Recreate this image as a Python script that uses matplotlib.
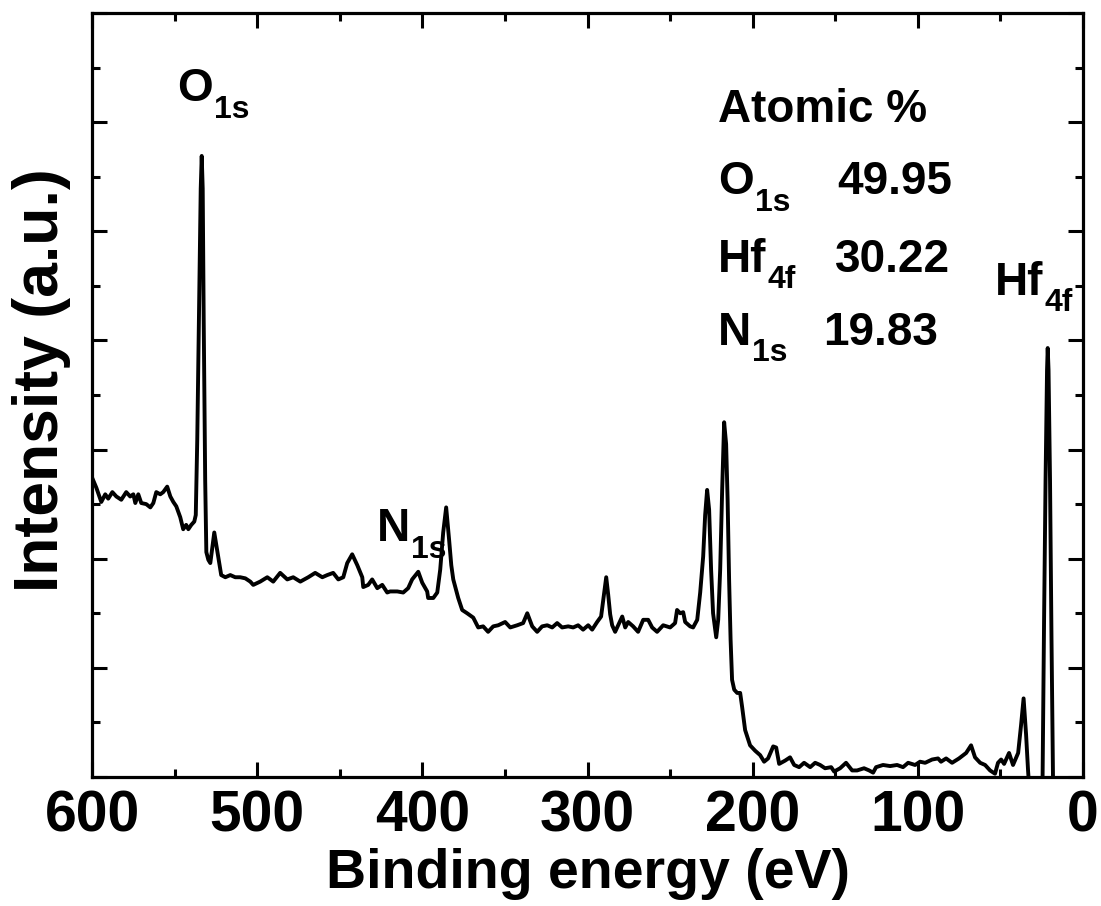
import matplotlib
matplotlib.use("Agg")
import matplotlib.pyplot as plt
from matplotlib.ticker import MultipleLocator, NullFormatter

plt.rcParams['font.family'] = ['Liberation Sans', 'DejaVu Sans']
plt.rcParams['font.weight'] = 'bold'

# Binding energy (eV) and intensity (a.u.)
binding_energy = [
    599.9, 597.4, 594.4, 592.0, 590.2, 587.7, 585.3, 582.3, 579.3, 576.9,
    575.0, 573.8, 572.0, 570.2, 567.2, 564.7, 562.9, 561.1, 558.7, 556.9,
    554.5, 552.6, 550.8, 549.0, 546.6, 544.8, 543.0, 541.7, 539.9, 538.1,
    537.2, 536.3, 535.1, 534.2, 533.6, 533.0, 532.4, 531.5, 530.8, 529.6,
    528.4, 527.2, 526.0, 524.8, 523.6, 521.8, 519.3, 516.3, 513.3, 510.3,
    507.2, 504.2, 502.4, 498.2, 493.9, 490.3, 486.1, 481.8, 478.2, 473.9,
    469.1, 464.9, 460.6, 457.6, 454.0, 450.9, 447.9, 445.5, 442.5, 439.4,
    436.4, 435.8, 432.8, 430.4, 427.3, 424.3, 421.3, 419.5, 415.2, 411.6,
    408.6, 406.2, 402.5, 400.1, 397.1, 396.5, 393.4, 391.0, 389.2, 387.4,
    385.6, 383.8, 382.5, 381.3, 378.3, 375.9, 372.9, 369.2, 366.2, 363.2,
    360.2, 357.1, 354.1, 349.9, 346.8, 342.6, 339.0, 336.5, 333.5, 330.5,
    327.5, 324.4, 321.4, 318.4, 315.4, 311.7, 308.7, 305.7, 302.7, 299.6,
    297.2, 294.2, 291.8, 290.5, 288.7, 287.5, 286.3, 285.1, 283.3, 279.0,
    277.2, 275.4, 272.4, 269.4, 266.3, 263.3, 260.9, 257.9, 254.2, 250.0,
    247.0, 245.8, 243.9, 242.1, 240.9, 237.9, 236.1, 233.6, 231.8, 230.0,
    228.8, 227.6, 226.4, 225.2, 224.0, 222.1, 220.9, 219.7, 218.5, 217.3,
    216.1, 215.2, 214.3, 213.4, 212.5, 211.2, 209.4, 207.6, 206.4, 204.6,
    201.6, 198.5, 195.5, 193.1, 190.7, 187.6, 185.8, 184.0, 180.4, 177.4,
    174.9, 171.9, 168.9, 165.2, 162.2, 159.2, 156.2, 152.5, 150.7, 147.1,
    143.5, 139.8, 136.8, 132.6, 129.5, 127.1, 125.3, 121.1, 116.8, 112.6,
    109.0, 105.9, 101.7, 98.7, 95.6, 91.4, 87.8, 86.0, 82.9, 79.3,
    75.1, 70.8, 67.8, 65.4, 62.3, 59.3, 56.3, 53.3, 51.5, 49.6,
    47.8, 44.8, 42.4, 39.3, 37.5, 36.0, 34.5, 33.3, 32.1, 28.4,
    25.4, 24.5, 23.6, 22.7, 21.8, 21.4, 20.9, 20.0, 19.1, 18.2,
    16.9, 13.9,
]
intensity = [
    2.74, 2.65, 2.52, 2.59, 2.55, 2.61, 2.57, 2.54, 2.61, 2.57,
    2.59, 2.51, 2.59, 2.51, 2.50, 2.47, 2.51, 2.61, 2.59, 2.61,
    2.66, 2.57, 2.52, 2.48, 2.38, 2.27, 2.31, 2.27, 2.31, 2.34,
    2.40, 3.09, 4.38, 5.39, 5.69, 5.39, 4.19, 2.72, 2.06, 1.99,
    1.96, 2.10, 2.24, 2.13, 2.02, 1.85, 1.83, 1.85, 1.83, 1.83,
    1.82, 1.79, 1.76, 1.79, 1.83, 1.79, 1.87, 1.81, 1.83, 1.79,
    1.83, 1.87, 1.83, 1.85, 1.87, 1.81, 1.83, 1.96, 2.04, 1.94,
    1.83, 1.74, 1.76, 1.81, 1.73, 1.76, 1.69, 1.70, 1.70, 1.69,
    1.73, 1.81, 1.88, 1.78, 1.70, 1.64, 1.64, 1.69, 1.90, 2.24,
    2.47, 2.17, 1.94, 1.81, 1.64, 1.53, 1.50, 1.46, 1.37, 1.38,
    1.33, 1.38, 1.39, 1.42, 1.37, 1.39, 1.41, 1.50, 1.38, 1.33,
    1.38, 1.39, 1.37, 1.41, 1.37, 1.38, 1.37, 1.39, 1.35, 1.39,
    1.35, 1.42, 1.47, 1.62, 1.83, 1.67, 1.49, 1.39, 1.33, 1.47,
    1.37, 1.42, 1.38, 1.33, 1.44, 1.44, 1.37, 1.33, 1.39, 1.37,
    1.41, 1.53, 1.50, 1.51, 1.42, 1.38, 1.37, 1.44, 1.69, 2.02,
    2.40, 2.63, 2.45, 1.90, 1.50, 1.28, 1.44, 1.90, 2.63, 3.25,
    3.05, 2.54, 1.81, 1.26, 0.89, 0.80, 0.77, 0.77, 0.64, 0.43,
    0.29, 0.24, 0.20, 0.14, 0.17, 0.28, 0.27, 0.12, 0.15, 0.18,
    0.11, 0.09, 0.13, 0.09, 0.13, 0.11, 0.08, 0.09, 0.05, 0.08,
    0.13, 0.06, 0.06, 0.08, 0.06, 0.04, 0.09, 0.11, 0.10, 0.11,
    0.09, 0.13, 0.11, 0.14, 0.13, 0.16, 0.17, 0.14, 0.17, 0.13,
    0.17, 0.22, 0.29, 0.18, 0.13, 0.11, 0.06, 0.03, 0.13, 0.16,
    0.12, 0.22, 0.11, 0.22, 0.48, 0.72, 0.39, 0.06, -0.21, -0.39,
    -0.21, 0.00, 1.44, 2.72, 3.73, 3.93, 3.73, 2.72, 1.26, 0.00,
    -0.30, -0.39,
]

# Peak labels: (element, subscript, x, y)
peak_labels = [('O', '1s', 548.4, 6.19),
               ('N', '1s', 427.3, 2.16),
               ('Hf', '4f', 53.3, 4.42)]
atomic_title = 'Atomic %'
atomic_elements = [('O', '1s'), ('Hf', '4f'), ('N', '1s')]
atomic_values = ['49.95', '30.22', '19.83']

fig = plt.figure(figsize=(11.01, 9.06), dpi=100)
ax = fig.add_axes([0.0836, 0.1424, 0.9001, 0.8433])
ax.plot(binding_energy, intensity, color='black', lw=2.8,
        solid_joinstyle='round', solid_capstyle='round')

ax.set_xlim(600, 0)
ax.set_ylim(0, 7.0)
ax.xaxis.set_major_locator(MultipleLocator(100))
ax.xaxis.set_minor_locator(MultipleLocator(50))
ax.yaxis.set_major_locator(MultipleLocator(1))
ax.yaxis.set_minor_locator(MultipleLocator(0.5))
ax.yaxis.set_major_formatter(NullFormatter())
ax.tick_params(which='both', direction='in', top=True, right=True, width=2.2)
ax.tick_params(which='major', length=10.5)
ax.tick_params(which='minor', length=5.5)
ax.tick_params(axis='x', which='major', labelsize=41, pad=9)
for lab in ax.get_xticklabels():
    lab.set_fontweight('bold')
for sp in ax.spines.values():
    sp.set_linewidth(2.3)

ax.set_xlabel('Binding energy (eV)', fontsize=40, fontweight='bold', labelpad=3)
ax.set_ylabel('Intensity (a.u.)', fontsize=45, fontweight='bold')
ax.yaxis.set_label_coords(-0.021, 0.52)

fs = 33
sub_fs = 23


def label_with_sub(x, y, main, sub):
    t = ax.text(x, y, main, fontsize=fs, ha='left', va='baseline', fontweight='bold')
    ax.annotate(sub, xy=(1, y), xycoords=(t, 'data'), xytext=(0.5, -12),
                textcoords='offset points', fontsize=sub_fs, ha='left',
                va='baseline', fontweight='bold')


for main, sub, x, y in peak_labels:
    label_with_sub(x, y, main, sub)

ax.text(220.9, 6.0, atomic_title, fontsize=fs, ha='left', va='baseline', fontweight='bold')
row_y = [5.34, 4.63, 3.96]
val_x = [148.9, 150.1, 157.4]
for (main, sub), val, y, vx in zip(atomic_elements, atomic_values, row_y, val_x):
    label_with_sub(220.9, y, main, sub)
    ax.text(vx, y, val, fontsize=fs, ha='left', va='baseline', fontweight='bold')

fig.savefig('out.png', dpi=100)
